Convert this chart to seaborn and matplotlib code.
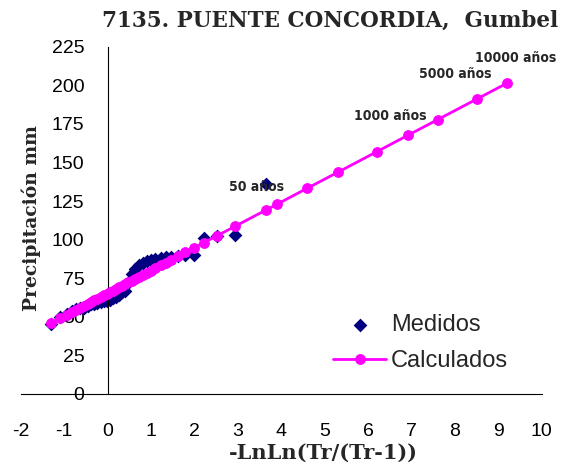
import matplotlib
matplotlib.use('Agg')
import matplotlib.pyplot as plt
import seaborn as sns
import pandas as pd
from matplotlib import font_manager

## Datos
x_medidos = [-1.30, -1.09, -0.94, -0.82, -0.72, -0.63, -0.54, -0.46, -0.38, -0.31,
             -0.24, -0.16, -0.09, -0.02, 0.05, 0.12, 0.19, 0.26, 0.33, 0.40,
             0.48, 0.56, 0.64, 0.72, 0.81, 0.90, 1.00, 1.10, 1.22, 1.34,
             1.47, 1.62, 1.79, 1.99, 2.22, 2.53, 2.94, 3.65]
y_medidos = [45.5, 50, 52, 53.5, 55, 55.5, 56, 57, 58, 58.5,
             59, 59.5, 60, 60.5, 61, 62, 63, 64, 66, 67,
             72, 78, 81, 83.5, 85, 86, 87, 87.5, 88, 88.5,
             89, 89.5, 90, 90, 101, 102.5, 103, 136]

x_calc = [-1.30, -1.09, -0.94, -0.82, -0.72, -0.63, -0.54, -0.46, -0.38, -0.31,
          -0.24, -0.16, -0.09, -0.02, 0.05, 0.12, 0.19, 0.26, 0.33, 0.40,
          0.48, 0.56, 0.64, 0.72, 0.81, 0.90, 1.00, 1.10, 1.22, 1.34,
          1.47, 1.62, 1.79, 1.99, 2.22, 2.53, 2.94, 3.65,
          3.90, 4.60, 5.30, 6.21, 6.91, 7.60, 8.52, 9.21]
y_calc = [46.0, 49.1, 51.3, 53.1, 54.5, 55.9, 57.2, 58.4, 59.6, 60.6,
          61.6, 62.8, 63.9, 64.9, 65.9, 67.0, 68.0, 69.0, 70.1, 71.1,
          72.3, 73.5, 74.7, 75.9, 77.2, 78.5, 80.0, 81.5, 83.3, 85.0,
          87.0, 89.2, 91.7, 94.7, 98.1, 102.6, 108.7, 119.2,
          122.9, 133.3, 143.6, 157.1, 167.5, 177.7, 191.3, 201.5]

etiquetas = ['50 años', '1000 años', '5000 años', '10000 años']
x_etiquetas = [3.90, 6.91, 8.52, 9.21]

sns.set_theme(style='white')
plt.rcParams['font.family'] = ['Liberation Sans', 'DejaVu Sans']
plt.rcParams['axes.unicode_minus'] = False

avail = {f.name for f in font_manager.fontManager.ttflist}
if 'Liberation Sans Narrow' in avail:
    narrow = dict(family='Liberation Sans Narrow', fontsize=10.5)
else:
    narrow = dict(family='DejaVu Sans', fontstretch='condensed', fontsize=10)

fig = plt.figure(figsize=(5.68, 4.67), dpi=100)
ax = fig.add_axes([20.7 / 568, 73 / 467, 521 / 568, 347.3 / 467])

df_med = pd.DataFrame({'x': x_medidos, 'y': y_medidos})
df_calc = pd.DataFrame({'x': x_calc, 'y': y_calc})

sns.scatterplot(data=df_med, x='x', y='y', marker='D', s=49, color='#000080',
                edgecolor='#000080', linewidth=0, label='Medidos', ax=ax, zorder=2)
sns.lineplot(data=df_calc, x='x', y='y', marker='o', markersize=7, color='#FF00FF',
             markeredgecolor='#FF00FF', linewidth=2, label='Calculados', ax=ax, zorder=3)

ax.set_xlim(-2, 10)
ax.set_ylim(0, 225)
ax.set_xticks(range(-2, 11))
ax.set_yticks(range(0, 226, 25))
ax.set_xlabel('')
ax.set_ylabel('')

for s in ['top', 'right']:
    ax.spines[s].set_visible(False)
ax.spines['left'].set_position(('data', 0))
ax.spines['bottom'].set_position(('data', 0))
for s in ['left', 'bottom']:
    ax.spines[s].set_color('black')
    ax.spines[s].set_linewidth(0.8)

ax.tick_params(axis='x', direction='out', length=4.3, width=0.8, color='#808080',
               pad=16.5, labelsize=14, labelcolor='black')
ax.tick_params(axis='y', direction='out', length=5, width=0.8, color='#808080',
               pad=11.5, labelsize=14, labelcolor='black')

# Etiquetas de periodos de retorno
offsets = {'50 años': (-14.6, 12.5), '1000 años': (-12.7, 14),
           '5000 años': (-16, 18), '10000 años': (5.8, 18)}
for lbl, xv in zip(etiquetas, x_etiquetas):
    yv = y_calc[x_calc.index(xv)]
    ax.annotate(lbl, xy=(xv, yv), xytext=offsets[lbl], textcoords='offset points',
                ha='center', va='center', fontweight='bold', zorder=4, **narrow)

handles, labels = ax.get_legend_handles_labels()
ax.legend(handles, labels, loc='upper left', bbox_to_anchor=(333 / 568, 1 - 314 / 467),
          bbox_transform=fig.transFigure, frameon=False, fontsize=17, handlelength=2.25,
          handletextpad=0.2, labelspacing=0.6, borderpad=0, borderaxespad=0)

serif = dict(family='DejaVu Serif', fontweight='bold')
fig.text(330 / 568, 1 - 21 / 467, '7135. PUENTE CONCORDIA,  Gumbel', ha='center', va='center',
         fontsize=15.5, **serif)
fig.text(31 / 568, 1 - 218 / 467, 'Precipitación mm', ha='center', va='center',
         rotation=90, fontsize=13.5, **serif)
fig.text(323 / 568, 1 - 453 / 467, '-LnLn(Tr/(Tr-1))', ha='center', va='center',
         fontsize=15, **serif)

plt.savefig('out.png', dpi=100)
